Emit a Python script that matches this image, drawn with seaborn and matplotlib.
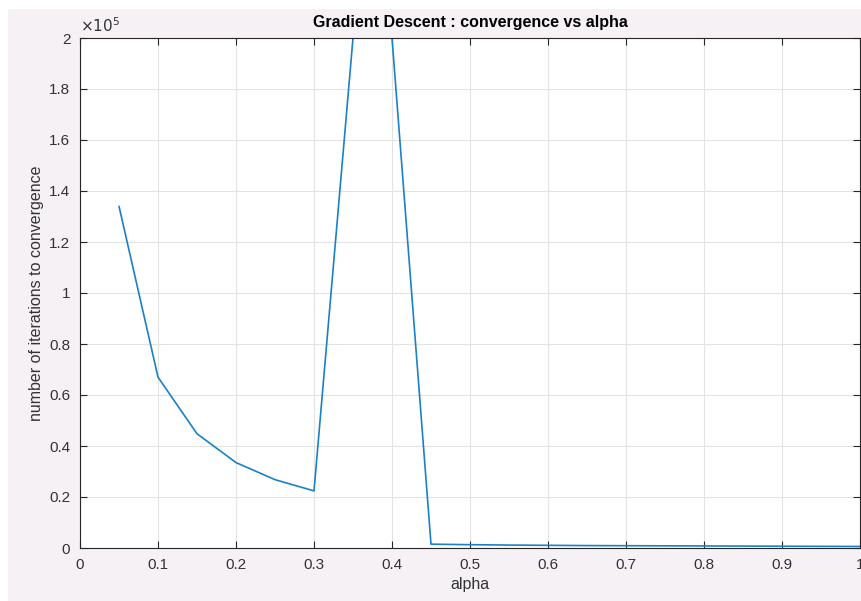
#!/usr/bin/env python3

import matplotlib.pyplot as plt
import seaborn as sns
from matplotlib.patches import Rectangle
from matplotlib.ticker import FuncFormatter, MultipleLocator

# alpha values and iterations to convergence
alpha = [0.05, 0.10, 0.15, 0.20, 0.25, 0.30, 0.35, 0.40, 0.45, 0.50,
         0.55, 0.60, 0.65, 0.70, 0.75, 0.80, 0.85, 0.90, 0.95, 1.00]
iterations = [134000, 67000, 44800, 33500, 26800, 22400, 200000, 200000,
              1500, 1300, 1150, 1050, 950, 900, 850, 800, 750, 700, 650, 600]

x_ticks = [0, 0.1, 0.2, 0.3, 0.4, 0.5, 0.6, 0.7, 0.8, 0.9, 1]
x_tick_labels = ["0", "0.1", "0.2", "0.3", "0.4", "0.5", "0.6", "0.7", "0.8", "0.9", "1"]

BG = "#f5f1f5"
LINE = "#1a80c8"
TXT = "#333333"

sns.set_theme(style="whitegrid")
plt.rcParams["font.family"] = ["Liberation Sans", "DejaVu Sans"]

fig = plt.figure(figsize=(8.62, 6.01), dpi=100, facecolor=BG)
# white strips at top and left of the screenshot
fig.patches.append(Rectangle((0, 1 - 9 / 601), 1, 9 / 601, transform=fig.transFigure,
                             facecolor="white", edgecolor="none", zorder=0))
fig.patches.append(Rectangle((0, 0), 8 / 862, 1, transform=fig.transFigure,
                             facecolor="white", edgecolor="none", zorder=0))

ax = fig.add_axes([80 / 862, 53 / 601, 780 / 862, 510 / 601])
ax.set_facecolor("white")

sns.lineplot(x=alpha, y=iterations, ax=ax, color=LINE, linewidth=1.2)

ax.set_xlim(0, 1)
ax.set_ylim(0, 200000)
ax.set_xticks(x_ticks)
ax.set_xticklabels(x_tick_labels)
ax.yaxis.set_major_locator(MultipleLocator(20000))
ax.yaxis.set_major_formatter(FuncFormatter(lambda v, p: f"{v / 1e5:g}"))

ax.grid(True, color="#e3e3e3", linewidth=0.8)
for side in ["left", "bottom", "top", "right"]:
    ax.spines[side].set_visible(True)
    ax.spines[side].set_color("#262626")
    ax.spines[side].set_linewidth(0.8)

ax.tick_params(axis="both", direction="in", length=5, width=0.8, color="#262626",
               labelsize=11, labelcolor=TXT, top=True, right=True,
               bottom=True, left=True, pad=7)

ax.set_xlabel("alpha", fontsize=11.5, color=TXT, labelpad=4)
ax.set_ylabel("number of iterations to convergence", fontsize=11.5, color=TXT,
              labelpad=4)
ax.set_title("Gradient Descent : convergence vs alpha", fontsize=11.5,
             fontweight="bold", color="#000000", pad=8)
ax.text(0, 1.005, r"$\times10^5$", transform=ax.transAxes, fontsize=11,
        color=TXT, ha="left", va="bottom")

fig.savefig("out.png", dpi=100, facecolor=BG)
plt.close(fig)
